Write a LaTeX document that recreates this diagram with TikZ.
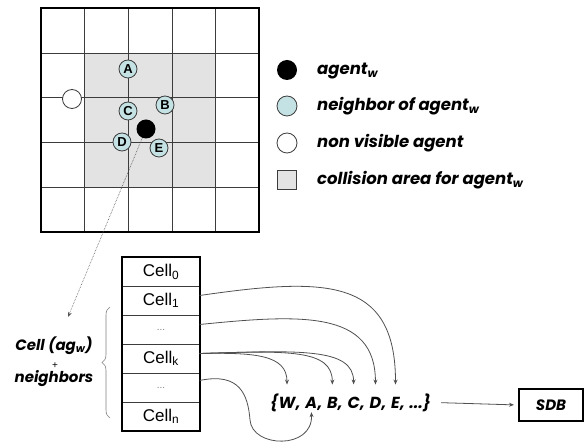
\documentclass[tikz,border=0pt]{standalone}
\usepackage{fontspec}
\setmainfont{Liberation Sans}
\newfontfamily\geofont{Poppins}
\usetikzlibrary{arrows.meta,decorations.pathreplacing}
\definecolor{area}{HTML}{E3E3E3}
\definecolor{nbfill}{HTML}{C4E2E4}
\definecolor{gridline}{HTML}{3C3C3C}
\definecolor{wire}{HTML}{505050}
\begin{document}
\begin{tikzpicture}[x=1pt,y=-1pt,
  legtext/.style={font=\geofont\bfseries\itshape\fontsize{16.5}{18}\selectfont, anchor=base west, inner sep=0},
  nb/.style={circle, draw=gridline, line width=0.8pt, fill=nbfill, minimum size=18pt, inner sep=0,
             font=\bfseries\fontsize{13}{13}\selectfont},
  cellrow/.style={draw=gridline, line width=0.7pt, minimum width=76.5pt, minimum height=29pt, inner sep=0,
             font=\fontsize{17}{17}\selectfont},
  settok/.style={font=\geofont\bfseries\itshape\fontsize{16}{18}\selectfont, anchor=base west, inner sep=0},
  link/.style={draw=wire, line width=0.8pt, -{Stealth[length=5pt,width=4pt]}},
  dots/.style={font=\fontsize{10}{10}\selectfont, text=gray}
]
\useasboundingbox (0,0) rectangle (586,443);

% grid with the collision area
\fill[area] (84,53) rectangle (215,187);
\foreach \x in {84,128,172,215} \draw[gridline, line width=0.9pt] (\x,8) -- (\x,232);
\foreach \y in {53,97,142,187} \draw[gridline, line width=0.9pt] (41,\y) -- (259,\y);
\draw[black, line width=2pt] (41,8) rectangle (259,232);

% agents
\node[nb] (nA) at (128,69) {A};
\node[nb] (nC) at (128,111) {C};
\node[nb] (nB) at (165,105) {B};
\node[nb] (nD) at (122,142) {D};
\node[nb] (nE) at (159,148) {E};
\node[circle, draw=gridline, line width=0.8pt, fill=white, minimum size=19pt, inner sep=0] (hid) at (72,99) {};
\node[circle, fill=black, minimum size=19pt, inner sep=0] (agw) at (146,129) {};

% legend
\node[circle, fill=black, minimum size=20pt, inner sep=0] (kagent) at (287,70) {};
\node[legtext] (tagent) at (317,75) {agent\textsubscript{w}};
\node[circle, draw=gridline, line width=0.8pt, fill=nbfill, minimum size=20pt, inner sep=0] (knb) at (287,106) {};
\node[legtext] (tnb) at (317,111) {neighbor of agent\textsubscript{w}};
\node[circle, draw=gridline, line width=0.8pt, fill=white, minimum size=20pt, inner sep=0] (khid) at (287,143) {};
\node[legtext] (thid) at (317,148) {non visible agent};
\node[draw=gridline, line width=0.8pt, fill=area, minimum size=19pt, inner sep=0] (karea) at (287,180) {};
\node[legtext] (tarea) at (317,185) {collision area for agent\textsubscript{w}};

% cell table
\node[cellrow] (r0) at (161,272) {Cell\textsubscript{0}};
\node[cellrow] (r1) at (161,300.5) {Cell\textsubscript{1}};
\node[cellrow, dots] (r2) at (161,329.5) {...};
\node[cellrow] (r3) at (161,358.5) {Cell\textsubscript{k}};
\node[cellrow, dots] (r4) at (161,387.5) {...};
\node[cellrow] (r5) at (161,416.5) {Cell\textsubscript{n}};
\draw[black, line width=2pt] (r0.north west) rectangle (r5.south east);

% brace and its label
\draw[decorate, decoration={brace, amplitude=8pt}, gray, line width=0.6pt] (110,418) -- (110,307);
\node[font=\geofont\bfseries\itshape\fontsize{15}{16}\selectfont, inner sep=0] (lab1) at (54,346) {Cell (ag\textsubscript{w})};
\node[font=\fontsize{10}{10}\selectfont, inner sep=0] (plus) at (55,366) {+};
\node[font=\geofont\bfseries\itshape\fontsize{15}{16}\selectfont, inner sep=0] (lab2) at (54,379) {neighbors};

\coordinate (tip) at (68,317);
\draw[wire, densely dotted, line width=0.6pt, -{Stealth[length=5pt,width=4pt]}] (agw) -- (tip);

% agent set
\node[settok] (lb) at (270,408) {\{};
\node[settok] (sW) at (lb.base east) {W};
\node[settok] (k1) at (sW.base east) {,\kern0.28em};
\node[settok] (sA) at (k1.base east) {A};
\node[settok] (k2) at (sA.base east) {,\kern0.28em};
\node[settok] (sB) at (k2.base east) {B};
\node[settok] (k3) at (sB.base east) {,\kern0.28em};
\node[settok] (sC) at (k3.base east) {C};
\node[settok] (k4) at (sC.base east) {,\kern0.28em};
\node[settok] (sD) at (k4.base east) {D};
\node[settok] (k5) at (sD.base east) {,\kern0.28em};
\node[settok] (sE) at (k5.base east) {E};
\node[settok] (rb) at (sE.base east) {,\kern0.28em...\}};

\node[draw=black, line width=2pt, minimum width=64pt, minimum height=32pt, inner sep=0,
      font=\geofont\bfseries\itshape\fontsize{15}{18}\selectfont] (sdb) at (551,405) {SDB};

% links from cells to the set
\draw[link, shorten >=12pt] ([yshift=5pt]r1.east) .. controls +(125,-18) and +(0,-120) .. (sE.north);
\draw[link, shorten >=12pt] ([yshift=5pt]r2.east) .. controls +(100,-10) and +(0,-87) .. (sD.north);
\draw[link, shorten >=12pt] ([yshift=5pt]r3.east) .. controls +(100,-3) and +(0,-49) .. (sC.north);
\draw[link, shorten >=12pt] ([yshift=5pt]r3.east) .. controls +(90,-3) and +(0,-47) .. (sB.north);
\draw[link, shorten >=12pt] ([yshift=5pt]r3.east) .. controls +(55,-1) and +(0,-42) .. (sW.north);
\draw[link, shorten >=4pt] ([yshift=7pt]r4.east) .. controls (240,372) and (248,395) .. (250,420)
      .. controls (252,448) and (313,450) .. (sA.south);
\draw[link, shorten <=10pt, shorten >=4pt] (rb.east) -- (sdb.west);
\end{tikzpicture}
\end{document}
